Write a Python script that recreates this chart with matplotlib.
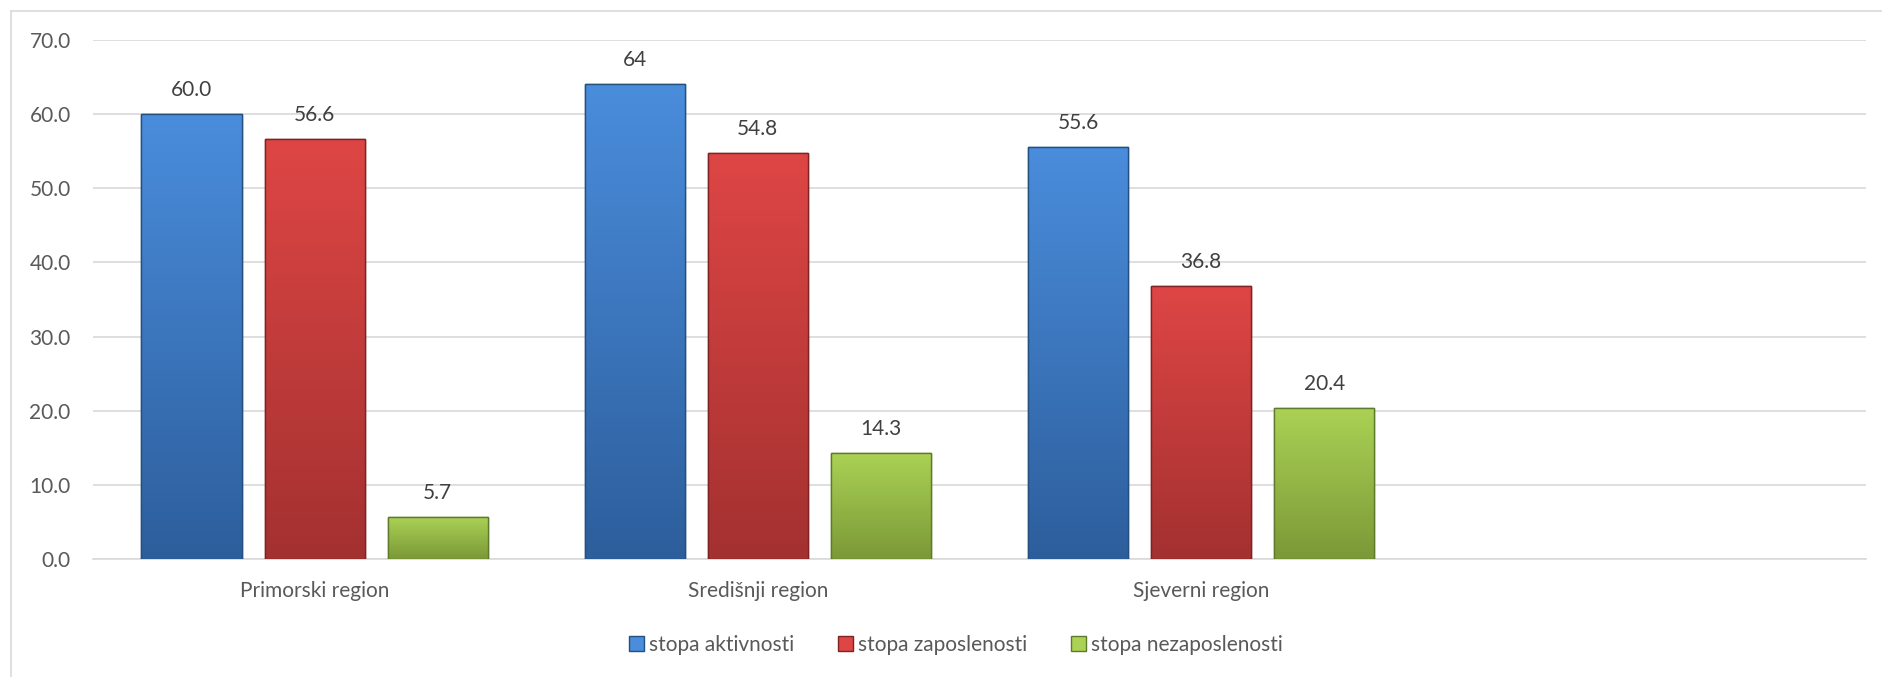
import matplotlib.pyplot as plt
import matplotlib.patches as mpatches
import matplotlib.lines as mlines
import numpy as np

regions = ["Primorski region", "Središnji region", "Sjeverni region"]
series = ["stopa aktivnosti", "stopa zaposlenosti", "stopa nezaposlenosti"]
aktivnost = [60.0, 64, 55.6]
zaposlenost = [56.6, 54.8, 36.8]
nezaposlenost = [5.7, 14.3, 20.4]
labels_akt = ["60.0", "64", "55.6"]
labels_zap = ["56.6", "54.8", "36.8"]
labels_nez = ["5.7", "14.3", "20.4"]
yticks = [0, 10, 20, 30, 40, 50, 60, 70]

plt.rcParams['font.family'] = ['Lato', 'DejaVu Sans']
GREY = '#595959'
FS = 15

# top / bottom shades of each bar gradient
shades = [('#4a8ddc', '#2d5e9c'), ('#de4645', '#a33130'), ('#abd255', '#7b9937')]
edges = ['#24507f', '#7d2323', '#5f7a2a']

fig = plt.figure(figsize=(18.82, 6.77), dpi=100)
ax = fig.add_axes([0.0494, 0.1743, 0.9421, 0.7666])

x = np.arange(len(regions))
w = 0.2257
step = 0.2777
data = [aktivnost, zaposlenost, nezaposlenost]
lbls = [labels_akt, labels_zap, labels_nez]

grad = np.linspace(0, 1, 256).reshape(-1, 1)
for i, vals in enumerate(data):
    bars = ax.bar(x + (i - 1) * step, vals, w, color=shades[i][1],
                  edgecolor=edges[i], linewidth=1.0, zorder=3, label=series[i])
    top, bot = shades[i]
    cmap = plt.matplotlib.colors.LinearSegmentedColormap.from_list('g%d' % i, [bot, top])
    for b, lab in zip(bars, lbls[i]):
        x0, y0 = b.get_x(), b.get_y()
        im = ax.imshow(grad, cmap=cmap, aspect='auto', origin='lower',
                       extent=[x0, x0 + b.get_width(), y0, y0 + b.get_height()],
                       zorder=3.5)
        im.set_clip_path(b)
        ax.add_patch(mpatches.Rectangle((x0, y0), b.get_width(), b.get_height(),
                                        fill=False, edgecolor=edges[i], linewidth=1.0, zorder=4))
        ax.annotate(lab, (x0 + b.get_width() / 2, b.get_height()), xytext=(0, 13),
                    textcoords='offset points', ha='center', va='baseline',
                    fontsize=FS, color='#404040')

ax.set_xlim(-0.5, 3.5)
ax.set_ylim(0, 70)
ax.set_yticks(yticks)
ax.set_yticklabels(['%.1f' % v for v in yticks])
ax.set_xticks(x)
ax.set_xticklabels(regions)
ax.tick_params(axis='y', length=0, pad=16, labelsize=FS, labelcolor=GREY)
ax.tick_params(axis='x', length=0, pad=16, labelsize=FS, labelcolor=GREY)
ax.grid(axis='y', color='#d9d9d9', linewidth=1.2, zorder=0)
ax.set_axisbelow(True)
for s in ['top', 'right', 'left']:
    ax.spines[s].set_visible(False)
ax.spines['bottom'].set_color('#d9d9d9')
ax.spines['bottom'].set_linewidth(1.2)

handles = [mpatches.Patch(facecolor=shades[i][0], edgecolor=edges[i]) for i in range(3)]
fig.legend(handles, series, loc='center', bbox_to_anchor=(0.508, 0.047), ncol=3,
           frameon=False, fontsize=FS, labelcolor=GREY, handlelength=0.72,
           handleheight=0.72, handletextpad=0.25, columnspacing=2.1)

# chart frame: only the top and left edges show in the reference
fig.add_artist(mlines.Line2D([11 / 1882, 11 / 1882], [0, 1 - 11 / 677],
                             transform=fig.transFigure, color='#d9d9d9', linewidth=1.2))
fig.add_artist(mlines.Line2D([11 / 1882, 1], [1 - 11 / 677, 1 - 11 / 677],
                             transform=fig.transFigure, color='#d9d9d9', linewidth=1.2))

plt.savefig('out.png', dpi=100)
